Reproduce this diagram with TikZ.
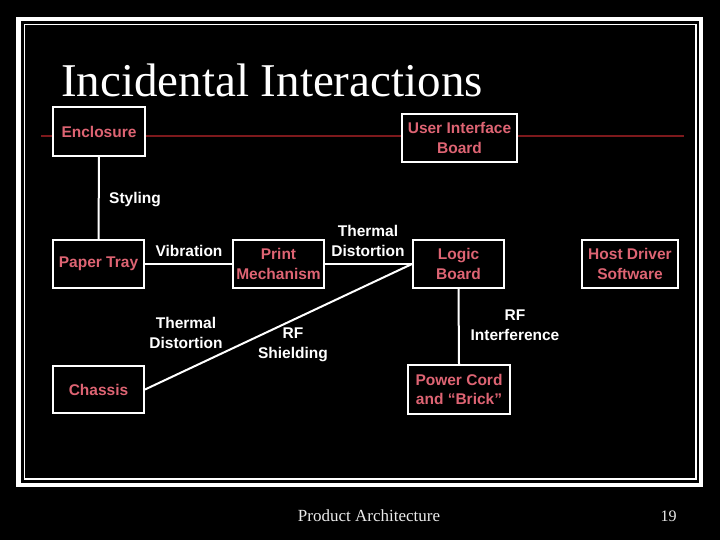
\documentclass[tikz,border=0pt]{standalone}
\usepackage{fontspec}
\setmainfont{Liberation Serif}
\newfontfamily\boxfont{Liberation Sans}
\definecolor{boxtext}{RGB}{222,100,115}
\definecolor{rule}{RGB}{125,25,28}
\tikzset{
  frame/.style={draw=white, line width=2pt, fill=black, minimum height=48pt, inner sep=0pt, align=center,
    text=boxtext, font=\boxfont\bfseries\fontsize{15.5}{19.5}\selectfont},
  lbl/.style={text=white, align=center, inner sep=0pt, font=\boxfont\bfseries\fontsize{15.5}{19.5}\selectfont},
  conn/.style={draw=white, line width=2pt}
}
\begin{document}
\begin{tikzpicture}[x=1pt,y=-1pt]
\fill[black] (0,0) rectangle (720,540);
\useasboundingbox (0,0) rectangle (720,540);
% slide frame
\draw[white, line width=4.5pt] (18.5,19) rectangle (701,485);
\draw[white, line width=1.5pt] (24.5,24.5) rectangle (696,479);
% title
\node[anchor=base west, text=white, inner sep=0pt, font=\fontsize{47}{50}\selectfont] (title) at (61,97) {Incidental Interactions};
% title rule
\coordinate (rl) at (41,136);
\coordinate (rr) at (684,136);
\draw[rule, line width=1.2pt] (rl) -- (rr);
% boxes
\node[frame, minimum width=92pt, minimum height=49pt] (enc) at (99,131.5) {Enclosure};
\node[frame, minimum width=115pt] (ui) at (459.5,138) {User Interface\\Board};
\node[frame, minimum width=91pt] (pt) at (98.5,264) {Paper Tray};
\node[frame, minimum width=91pt] (pm) at (278.5,264) {Print\\Mechanism};
\node[frame, minimum width=91pt] (lb) at (458.5,264) {Logic\\Board};
\node[frame, minimum width=96pt] (hd) at (630,264) {Host Driver\\Software};
\node[frame, minimum width=91pt, minimum height=47pt] (ch) at (98.5,389.5) {Chassis};
\node[frame, minimum width=102pt, minimum height=49pt] (pc) at (459,389.5) {Power Cord\\and “Brick”};
% connectors
\draw[conn] (enc.south) -- (pt.north);
\draw[conn] (pt.east) -- (pm.west);
\draw[conn] (pm.east) -- (lb.west);
\draw[conn] (ch.east) -- (lb.west);
\draw[conn] (lb.south) -- (pc.north);
% labels
\node[lbl] (lsty) at (135,200) {Styling};
\node[lbl] (lvib) at (189,251) {Vibration};
\node[lbl] (lth1) at (368,241) {Thermal\\Distortion};
\node[lbl] (lth2) at (186,333) {Thermal\\Distortion};
\node[lbl] (lrfs) at (293,345) {RF\\Shielding};
\node[lbl] (lrfi) at (515,325) {RF\\Interference};
% footer
\node[anchor=base, text=white!92!black, inner sep=0pt, font=\fontsize{17}{20}\selectfont] (foot) at (369,521) {Product Architecture};
\node[anchor=base, text=white!92!black, inner sep=0pt, font=\fontsize{16}{20}\selectfont] (num) at (668.5,521) {19};
\end{tikzpicture}
\end{document}
